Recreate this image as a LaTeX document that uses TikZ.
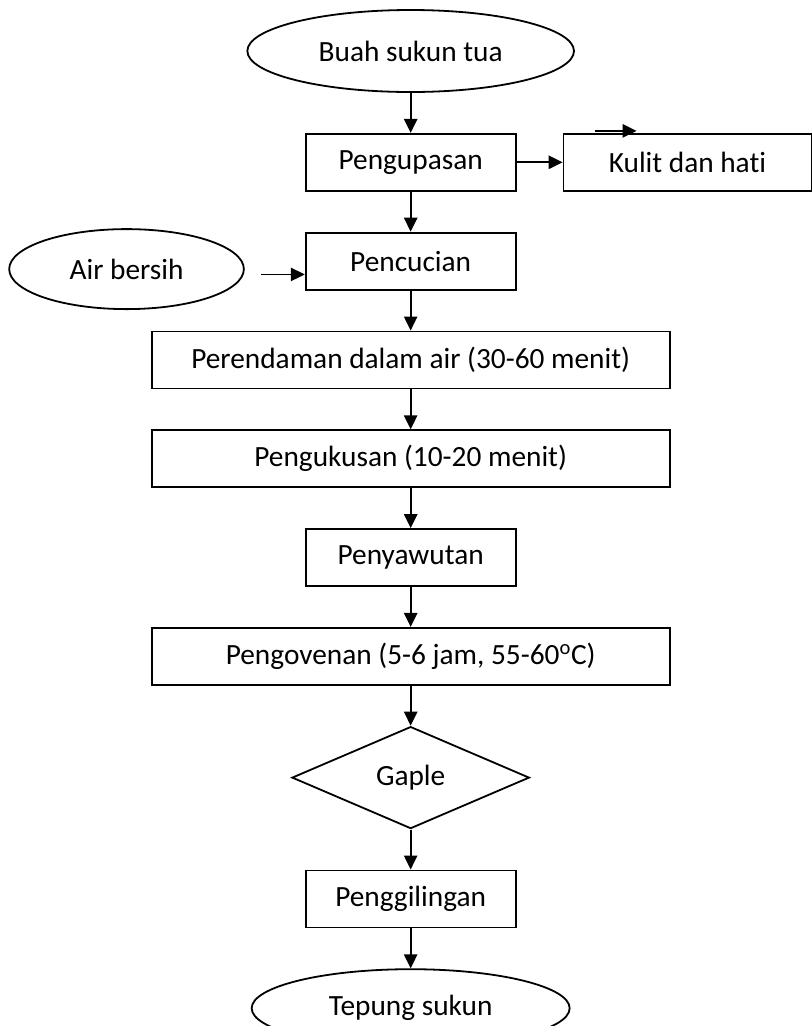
\documentclass[tikz,border=0pt]{standalone}
\usepackage{fontspec}
\setmainfont{Carlito}[Ligatures=NoCommon]
\usetikzlibrary{arrows.meta,positioning,shapes.geometric}
\tikzset{
 procbox/.style={
 rectangle,
 draw=black,
 fill=white,
 line width=1.35pt,
 align=center,
 inner sep=0pt,
 minimum width=157.5pt,
 minimum height=42.75pt,
 font=\fontsize{22}{26}\selectfont
 },
 widebox/.style={
 procbox,
 minimum width=388.5pt
 },
 terminal/.style={
 ellipse,
 draw=black,
 fill=white,
 line width=1.35pt,
 align=center,
 inner sep=0pt,
 minimum width=245pt,
 minimum height=61.5pt,
 font=\fontsize{22}{26}\selectfont
 },
 decision/.style={
 diamond,
 draw=black,
 fill=white,
 line width=1.35pt,
 align=center,
 inner sep=0pt,
 minimum width=178pt,
 minimum height=76.5pt,
 font=\fontsize{22}{26}\selectfont
 },
 flowarrow/.style={-{Triangle[length=10.5pt,width=10pt]}, line width=1.3pt, draw=black}
}

\begin{document}
\begin{tikzpicture}[node distance=30pt and 30pt]
 \useasboundingbox (0,0) rectangle (609pt,-769.5pt);
 \node[terminal] (buah) at (308pt,-38.25pt) {Buah sukun tua};
 \node[procbox, below=of buah] (kupas) {Pengupasan};
 \node[procbox, right=34.5pt of kupas, minimum width=186pt] (kulit) {Kulit dan hati};
 \node[procbox, below=of kupas] (cuci) {Pencucian};
 \node[terminal, left=45pt of cuci, yshift=-6pt, minimum width=176pt, minimum height=60pt] (air) {Air bersih};
 \node[widebox, below=of cuci] (rendam) {Perendaman dalam air (30-60 menit)};
 \node[widebox, below=of rendam] (kukus) {Pengukusan (10-20 menit)};
 \node[procbox, below=of kukus] (sawut) {Penyawutan};
 \node[widebox, below=of sawut] (oven) {Pengovenan (5-6 jam, 55-60\textsuperscript{o}C)};
 \node[decision, below=of oven] (gaple) {Gaple};
 \node[procbox, below=of gaple] (giling) {Penggilingan};
 \node[terminal, below=of giling, minimum width=238.5pt, minimum height=58.5pt] (tepung) {Tepung sukun};

 \coordinate (stray) at ([xshift=24pt,yshift=1.5pt]kulit.north west);
 \coordinate (airout) at ([xshift=12pt,yshift=-4pt]air.east);

 \draw[flowarrow] (buah) -- (kupas);
 \draw[flowarrow] (kupas) -- (kulit);
 \draw[flowarrow] (stray) -- ++(31.5pt,0);
 \draw[flowarrow] (kupas) -- (cuci);
 \draw[flowarrow] (airout) -- (airout -| cuci.west);
 \draw[flowarrow] (cuci) -- (rendam);
 \draw[flowarrow] (rendam) -- (kukus);
 \draw[flowarrow] (kukus) -- (sawut);
 \draw[flowarrow] (sawut) -- (oven);
 \draw[flowarrow] (oven) -- (gaple);
 \draw[flowarrow] (gaple) -- (giling);
 \draw[flowarrow] (giling) -- (tepung);
\end{tikzpicture}
\end{document}
